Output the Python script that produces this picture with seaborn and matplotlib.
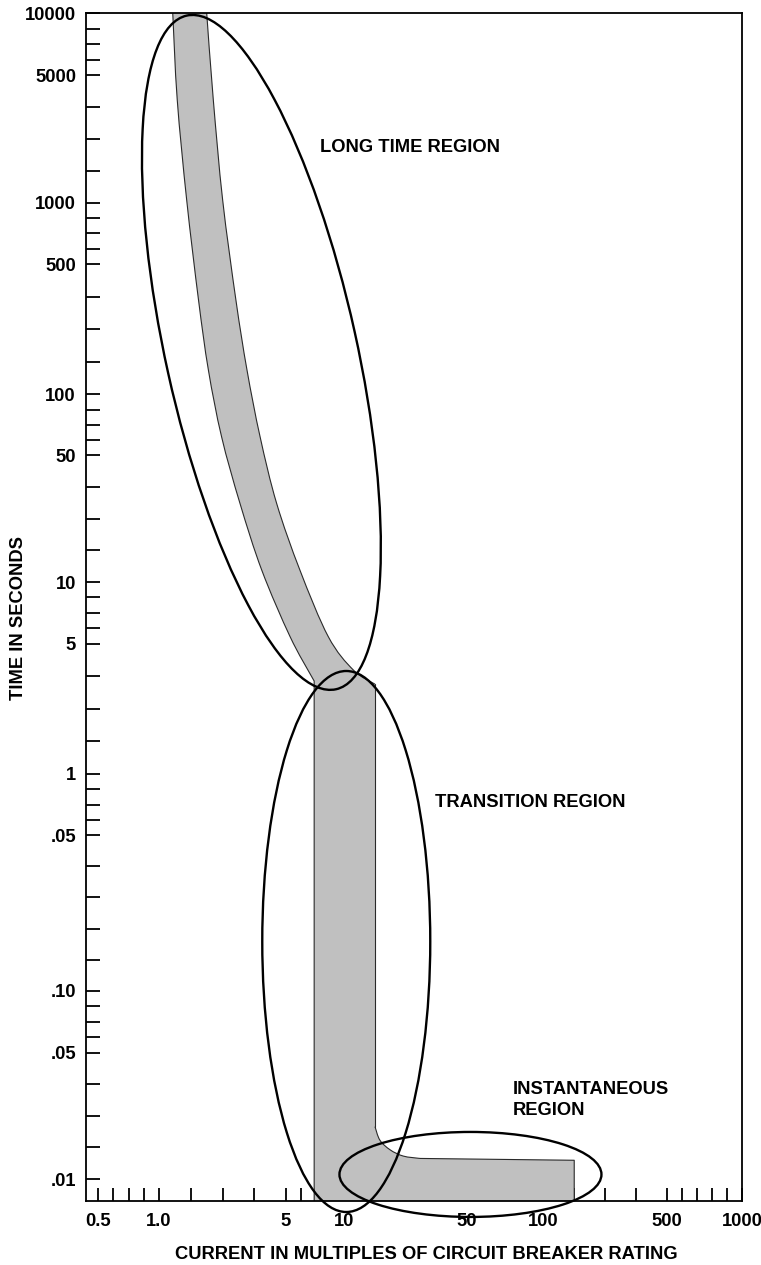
import numpy as np
import matplotlib
matplotlib.use("Agg")
import matplotlib.pyplot as plt
import matplotlib.transforms as mtransforms
from matplotlib.patches import Ellipse, PathPatch
from matplotlib.path import Path
from matplotlib.ticker import FixedLocator, FixedFormatter
import seaborn as sns

# ---------------------------------------------------------------- data
# Long-time band, read top to bottom: fast (left) and slow (right) limits
LT_LEFT_TIME = [10000, 3650, 1035, 321, 135, 61.6, 27.1, 11.6, 5.41, 3.32]
LT_LEFT_CURRENT = [1.19, 1.26, 1.42, 1.65, 1.87, 2.21, 2.79, 3.68, 5.25, 6.8]
LT_RIGHT_TIME = [10000, 3650, 1035, 321, 135, 61.6, 27.1, 11.6, 5.41, 3.61, 3.03]
LT_RIGHT_CURRENT = [1.83, 1.99, 2.24, 2.65, 3.05, 3.60, 4.44, 5.91, 8.29, 11.3, 15.0]

# Transition band: vertical strip between two pickup multiples
TRANSITION_LEFT = 7.0
TRANSITION_LEFT_TOP_TIME = 3.15

# Knee into the instantaneous band (from the transition edge outward)
INST_KNEE_CURRENT = [15.0, 16.0, 18.3, 21.7, 27.0]
INST_KNEE_TIME = [0.0195, 0.0164, 0.0145, 0.0134, 0.0130]
INST_TOP_TIME = 0.0127
INST_END_CURRENT = 150
BAND_FLOOR_TIME = 0.005  # below the plotted range; clipped by the axes

# Region outlines and their names
REGION_NAMES = ["LONG TIME REGION", "TRANSITION REGION", "INSTANTANEOUS\nREGION"]
ELLIPSE_CURRENT = [3.66, 10.3, 51.6]
ELLIPSE_TIME = [168, 0.1665, 0.0106]
LABEL_CURRENT = [7.5, 33, 76]
LABEL_TIME = [2000, 0.72, 0.0274]

# Axis ticks
Y_TICKS = [0.01, 0.05, 0.1, 0.5, 1, 5, 10, 50, 100, 500, 1000, 5000, 10000]
Y_TICK_LABELS = [".01", ".05", ".10", ".05", "1", "5", "10", "50", "100",
                 "500", "1000", "5000", "10000"]
X_TICKS = [0.5, 1, 5, 10, 50, 100, 500, 1000]
X_TICK_LABELS = ["0.5", "1.0", "5", "10", "50", "100", "500", "1000"]

# ---------------------------------------------------------------- layout / style
# where each labelled tick sits along its axis (fraction of the axis length)
Y_TICK_FRAC = [0.0185, 0.1248, 0.1770, 0.3078, 0.3597, 0.4691, 0.5210,
               0.6279, 0.6790, 0.7885, 0.8403, 0.9478, 1.0]
X_TICK_FRAC = [0.0183, 0.1113, 0.3049, 0.3933, 0.5808, 0.6966, 0.8857, 1.0]


def even(n):
    return [k / n for k in range(1, n)]


# minor tick placement inside each labelled interval
Y_MINOR_SPLITS = [even(4), even(4), even(5), even(4), even(4), even(4),
                  even(4), even(4), even(4), even(4), even(4), even(4)]
X_MINOR_SPLITS = [even(4), even(4), even(4), [0.13, 0.27, 0.51, 0.75],
                  even(5), even(4), even(5)]

# ellipse sizes (inches) and tilt (degrees)
ELLIPSE_SHAPE = [(6.90, 1.91, 102.5), (1.68, 5.41, 0.0), (2.62, 0.85, 0.0)]

BAND_FILL = "#c0c0c0"
BAND_EDGE = "#2a2a2a"
BAND_EDGE_WIDTH = 0.8
FONT_SIZE = 13.2


def piecewise_log_scale(values, fractions):
    lv = np.log10(np.asarray(values, float))
    fr = np.asarray(fractions, float)
    lo = (fr[1] - fr[0]) / (lv[1] - lv[0])
    hi = (fr[-1] - fr[-2]) / (lv[-1] - lv[-2])
    lv = np.concatenate([[lv[0] - 20], lv, [lv[-1] + 20]])
    fr = np.concatenate([[fr[0] - 20 * lo], fr, [fr[-1] + 20 * hi]])

    def forward(v):
        v = np.asarray(v, float)
        safe = np.where(v > 0, v, 1e-300)
        return np.interp(np.log10(safe), lv, fr)

    def inverse(p):
        return 10.0 ** np.interp(np.asarray(p, float), fr, lv)

    return forward, inverse


def minor_ticks(fractions, splits, inverse):
    out = []
    for i, parts in enumerate(splits):
        a, b = fractions[i], fractions[i + 1]
        for f in parts:
            out.append(float(inverse(a + f * (b - a))))
    return out


def smooth_curve(xs, ys, fx, fy, ix, iy):
    """Cubic Bezier pieces passing through the given points (Catmull-Rom
    tangents taken in axis space), returned as data-space vertices + codes."""
    P = np.column_stack([fx(np.asarray(xs, float)), fy(np.asarray(ys, float))])
    verts, codes = [P[0]], []
    n = len(P)
    for i in range(n - 1):
        p0 = P[i - 1] if i > 0 else P[i]
        p1, p2 = P[i], P[i + 1]
        p3 = P[i + 2] if i + 2 < n else P[i + 1]
        verts += [p1 + (p2 - p0) / 6.0, p2 - (p3 - p1) / 6.0, p2]
        codes += [Path.CURVE4] * 3
    V = np.array(verts)
    return np.column_stack([ix(V[:, 0]), iy(V[:, 1])]), codes


sns.set_style("white")
plt.rcParams["font.family"] = ["Liberation Sans", "DejaVu Sans"]
plt.rcParams["font.weight"] = "bold"
for key in ["text.color", "axes.labelcolor", "xtick.color", "ytick.color",
            "axes.edgecolor"]:
    plt.rcParams[key] = "black"

fig = plt.figure(figsize=(7.61, 12.65), dpi=100)
ax = fig.add_axes([86 / 761, 1 - 1201 / 1265, 656 / 761, 1188 / 1265])

fx, ix = piecewise_log_scale(X_TICKS, X_TICK_FRAC)
fy, iy = piecewise_log_scale(Y_TICKS, Y_TICK_FRAC)
ax.set_xscale("function", functions=(fx, ix))
ax.set_yscale("function", functions=(fy, iy))
ax.set_xlim(float(ix(0.0)), float(ix(1.0)))
ax.set_ylim(float(iy(0.0)), float(iy(1.0)))
ax.autoscale(False)

# ---- trip band
left_v, left_c = smooth_curve(LT_LEFT_CURRENT, LT_LEFT_TIME, fx, fy, ix, iy)
right_v, right_c = smooth_curve(LT_RIGHT_CURRENT[::-1], LT_RIGHT_TIME[::-1],
                                fx, fy, ix, iy)
knee_v, knee_c = smooth_curve(INST_KNEE_CURRENT[::-1], INST_KNEE_TIME[::-1],
                              fx, fy, ix, iy)

# straight runs: transition left side, floor, instantaneous end and top
step_x = [LT_LEFT_CURRENT[-1], TRANSITION_LEFT, TRANSITION_LEFT,
          INST_END_CURRENT, INST_END_CURRENT, INST_KNEE_CURRENT[-1]]
step_y = [LT_LEFT_TIME[-1], TRANSITION_LEFT_TOP_TIME, BAND_FLOOR_TIME,
          BAND_FLOOR_TIME, INST_TOP_TIME, INST_KNEE_TIME[-1]]
# transition right side
rise_x = [INST_KNEE_CURRENT[0], LT_RIGHT_CURRENT[-1]]
rise_y = [INST_KNEE_TIME[0], LT_RIGHT_TIME[-1]]

verts = np.vstack([left_v,
                   np.column_stack([step_x[1:], step_y[1:]]),
                   knee_v[1:],
                   right_v,
                   left_v[:1]])
codes = ([Path.MOVETO] + left_c
         + [Path.LINETO] * (len(step_x) - 1)
         + knee_c
         + [Path.LINETO] + right_c
         + [Path.CLOSEPOLY])
ax.add_patch(PathPatch(Path(verts, codes), facecolor=BAND_FILL,
                       edgecolor="none", transform=ax.transData, zorder=1))

# band outline: smooth curved limits plus the straight runs
for v, c in [(left_v, left_c), (right_v, right_c), (knee_v, knee_c)]:
    ax.add_patch(PathPatch(Path(v, [Path.MOVETO] + c), fill=False,
                           edgecolor=BAND_EDGE, linewidth=BAND_EDGE_WIDTH,
                           transform=ax.transData, zorder=1.5))
sns.lineplot(x=step_x, y=step_y, sort=False, estimator=None, color=BAND_EDGE,
             linewidth=BAND_EDGE_WIDTH, ax=ax, zorder=1.5)
sns.lineplot(x=rise_x, y=rise_y, sort=False, estimator=None, color=BAND_EDGE,
             linewidth=BAND_EDGE_WIDTH, ax=ax, zorder=1.5)

# ---- region ellipses and names
for cx, cy, (w, h, ang) in zip(ELLIPSE_CURRENT, ELLIPSE_TIME, ELLIPSE_SHAPE):
    trans = fig.dpi_scale_trans + mtransforms.ScaledTranslation(cx, cy, ax.transData)
    ax.add_patch(Ellipse((0, 0), w, h, angle=ang, transform=trans, fill=False,
                         edgecolor="black", linewidth=1.7, clip_on=False, zorder=3))

for name, lx, ly in zip(REGION_NAMES, LABEL_CURRENT, LABEL_TIME):
    ax.text(lx, ly, name, ha="left", va="center", fontsize=FONT_SIZE,
            fontweight="bold", linespacing=1.3, color="black", zorder=4)

# ---- axes frame and ticks
for side in ["left", "right", "top", "bottom"]:
    ax.spines[side].set_visible(True)
    ax.spines[side].set_color("black")
    ax.spines[side].set_linewidth(1.3)

ax.xaxis.set_major_locator(FixedLocator(X_TICKS))
ax.xaxis.set_major_formatter(FixedFormatter(X_TICK_LABELS))
ax.xaxis.set_minor_locator(FixedLocator(minor_ticks(X_TICK_FRAC, X_MINOR_SPLITS, ix)))
ax.yaxis.set_major_locator(FixedLocator(Y_TICKS))
ax.yaxis.set_major_formatter(FixedFormatter(Y_TICK_LABELS))
ax.yaxis.set_minor_locator(FixedLocator(minor_ticks(Y_TICK_FRAC, Y_MINOR_SPLITS, iy)))

ax.tick_params(axis="both", which="both", direction="in", colors="black",
               width=1.3, labelsize=FONT_SIZE)
ax.tick_params(axis="x", which="both", length=9.1, pad=8.4, bottom=True, top=False)
ax.tick_params(axis="y", which="both", length=9.8, pad=7.2, left=True, right=False)
for lab in ax.get_xticklabels() + ax.get_yticklabels():
    lab.set_fontweight("bold")

ax.set_xlabel("CURRENT IN MULTIPLES OF CIRCUIT BREAKER RATING",
              fontsize=FONT_SIZE, fontweight="bold", color="black")
ax.set_ylabel("TIME IN SECONDS", fontsize=FONT_SIZE, fontweight="bold",
              color="black")
ax.xaxis.set_label_coords((426 - 86) / 656, (1201 - 1254.5) / 1188)
ax.xaxis.label.set_verticalalignment("center")
ax.yaxis.set_label_coords((18.3 - 86) / 656, (1201 - 618) / 1188)
ax.yaxis.label.set_verticalalignment("center")

fig.savefig("out.png", dpi=100)
